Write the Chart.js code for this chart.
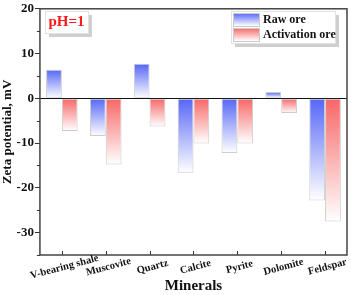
<!DOCTYPE html>
<html>
<head>
<meta charset="utf-8">
<script src="https://cdn.jsdelivr.net/npm/chart.js@4.4.0/dist/chart.umd.min.js"></script>
<style>
  html, body { margin: 0; padding: 0; background: #fff; }
  #wrap { width: 351px; height: 295px; }
</style>
</head>
<body>
<div id="wrap"><canvas id="zeta" width="351" height="295"></canvas></div>
<script>
// zeta potential at pH=1, raw vs activated ore
var minerals = ['V-bearing shale', 'Muscovite', 'Quartz', 'Calcite', 'Pyrite', 'Dolomite', 'Feldspar'];
var rawOre = [6.4, -8.4, 7.7, -16.6, -12.2, 1.4, -22.8];
var activationOre = [-7.3, -14.8, -6.3, -10.1, -10.1, -3.3, -27.5];
var yTicks = [-30, -20, -10, 0, 10, 20];

var BLUE = '#5566f6';
var RED = '#f76666';
var FONT = "'Liberation Serif', 'Times New Roman', serif";

// gradient from the bar's top edge (full colour) down to white
function barGradient(color) {
  return function(c) {
    var chart = c.chart;
    if (!chart.chartArea || c.type !== 'data') return color;
    var y = chart.scales.y;
    var p1 = y.getPixelForValue(c.raw);
    var p0 = y.getPixelForValue(0);
    var top = Math.min(p0, p1), bot = Math.max(p0, p1);
    if (bot - top < 1) bot = top + 1;
    var g = chart.ctx.createLinearGradient(0, top, 0, bot);
    g.addColorStop(0, color);
    g.addColorStop(1, '#ffffff');
    return g;
  };
}

function shadowBox(ctx, x, y, w, h) {
  ctx.fillStyle = '#cfcfcf';
  ctx.fillRect(x + 4, y + 4, w, h);
  ctx.fillStyle = '#fff';
  ctx.fillRect(x, y, w, h);
  ctx.strokeStyle = '#e2e2e2';
  ctx.lineWidth = 1;
  ctx.strokeRect(x + 0.5, y + 0.5, w, h);
}

var extras = {
  id: 'extras',
  afterDraw: function(chart) {
    var ctx = chart.ctx, a = chart.chartArea;
    var xs = chart.scales.x, ys = chart.scales.y;
    ctx.save();
    // frame
    ctx.strokeStyle = '#444';
    ctx.lineWidth = 1.5;
    ctx.strokeRect(a.left, a.top, a.right - a.left, a.bottom - a.top);
    // minor y ticks
    ctx.lineWidth = 1;
    ctx.strokeStyle = '#333';
    for (var v = -35; v <= 20; v += 5) {
      if (v % 10 === 0) continue;
      var py = Math.round(ys.getPixelForValue(v)) + 0.5;
      ctx.beginPath(); ctx.moveTo(a.left - 3, py); ctx.lineTo(a.left, py); ctx.stroke();
    }
    // x ticks (inside) and rotated labels
    ctx.font = 'bold 10.5px ' + FONT;
    ctx.fillStyle = '#111';
    ctx.textAlign = 'center';
    ctx.textBaseline = 'middle';
    minerals.forEach(function(m, i) {
      var px = Math.round(xs.getPixelForValue(i)) + 0.5;
      ctx.beginPath(); ctx.moveTo(px, a.bottom); ctx.lineTo(px, a.bottom - 4); ctx.stroke();
      ctx.save();
      ctx.translate(px + 2, a.bottom + 12);
      ctx.rotate(-15 * Math.PI / 180);
      ctx.fillText(m, 0, 0);
      ctx.restore();
    });
    // pH label box
    shadowBox(ctx, 45, 11, 43, 22);
    ctx.font = 'bold 15px ' + FONT;
    ctx.fillStyle = '#ff1a1a';
    ctx.textAlign = 'center';
    ctx.fillText('pH=1', 66.5, 22.5);
    // legend
    shadowBox(ctx, 231, 11, 104, 32);
    var names = ['Raw ore', 'Activation ore'];
    var cols = [BLUE, RED];
    for (var k = 0; k < 2; k++) {
      var sy = 13 + k * 15;
      var g = ctx.createLinearGradient(0, sy, 0, sy + 13);
      g.addColorStop(0, cols[k]); g.addColorStop(1, '#fff');
      ctx.fillStyle = g;
      ctx.fillRect(233, sy, 26, 13);
      ctx.strokeStyle = '#ccc';
      ctx.strokeRect(233.5, sy + 0.5, 26, 13);
      ctx.fillStyle = '#111';
      ctx.font = 'bold 12px ' + FONT;
      ctx.textAlign = 'left';
      ctx.fillText(names[k], 263, sy + 7);
    }
    ctx.restore();
  }
};

new Chart(document.getElementById('zeta'), {
  type: 'bar',
  data: {
    labels: minerals,
    datasets: [{
      label: 'Raw ore',
      data: rawOre,
      backgroundColor: barGradient(BLUE),
      borderColor: '#cdcdcd',
      borderWidth: 1,
      borderSkipped: false,
      categoryPercentage: 0.72,
      barPercentage: 1
    }, {
      label: 'Activation ore',
      data: activationOre,
      backgroundColor: barGradient(RED),
      borderColor: '#cdcdcd',
      borderWidth: 1,
      borderSkipped: false,
      categoryPercentage: 0.72,
      barPercentage: 1
    }]
  },
  options: {
    responsive: false,
    animation: false,
    layout: { padding: { top: 1, right: 4, left: 0, bottom: 0 } },
    plugins: { legend: { display: false }, tooltip: { enabled: false } },
    scales: {
      x: {
        grid: { display: false },
        border: { display: false },
        ticks: { display: false },
        title: {
          display: true, text: 'Minerals', color: '#111',
          font: { family: FONT, size: 15, weight: 'bold' },
          padding: { top: 14, bottom: 0 }
        }
      },
      y: {
        min: -35, max: 20,
        afterBuildTicks: function(s) { s.ticks = yTicks.map(function(v) { return { value: v }; }); },
        grid: {
          color: function(c) { return c.tick && c.tick.value === 0 ? '#111' : 'rgba(0,0,0,0)'; },
          tickColor: '#333', tickLength: 5, lineWidth: 1
        },
        border: { display: false },
        ticks: { color: '#111', padding: 1, font: { family: FONT, size: 13, weight: 'bold' } },
        title: {
          display: true, text: 'Zeta potential, mV', color: '#111',
          font: { family: FONT, size: 13, weight: 'bold' },
          padding: { top: 0, bottom: 0 }
        }
      }
    }
  },
  plugins: [extras]
});
</script>
</body>
</html>
